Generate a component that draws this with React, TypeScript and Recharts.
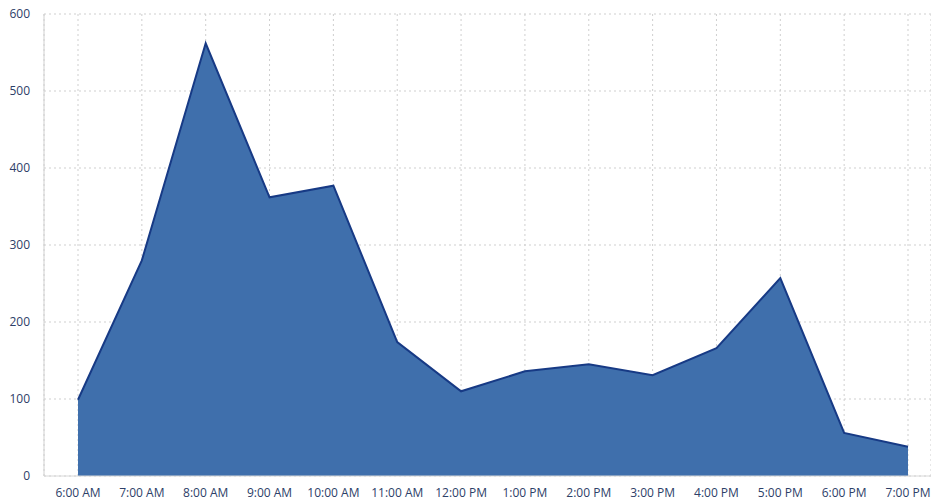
import { AreaChart, Area, XAxis, YAxis, CartesianGrid } from "recharts";

const hours = [
  "6:00 AM",
  "7:00 AM",
  "8:00 AM",
  "9:00 AM",
  "10:00 AM",
  "11:00 AM",
  "12:00 PM",
  "1:00 PM",
  "2:00 PM",
  "3:00 PM",
  "4:00 PM",
  "5:00 PM",
  "6:00 PM",
  "7:00 PM",
];

const counts = [99, 280, 562, 362, 377, 174, 110, 136, 145, 131, 166, 257, 56, 38];

const yTicks = [0, 100, 200, 300, 400, 500, 600];

const data = hours.map((hour, i) => ({ hour, count: counts[i] }));

const tickStyle = { fill: "#2d4068", fontSize: 12, fontFamily: "Open Sans" };

export default function App() {
  return (
    <div style={{ position: "absolute", left: 0, top: 0, background: "#fff" }}>
      <AreaChart
        width={931}
        height={503}
        data={data}
        margin={{ top: 14, right: 0, bottom: 0, left: 0 }}
      >
        <CartesianGrid stroke="#cfcfcf" strokeDasharray="2 3" />
        <XAxis
          dataKey="hour"
          interval={0}
          height={27}
          padding={{ left: 34, right: 23 }}
          tick={tickStyle}
          tickLine={false}
          tickSize={0}
          tickMargin={12}
          axisLine={{ stroke: "#d8d8d8" }}
        />
        <YAxis
          domain={[0, 600]}
          ticks={yTicks}
          width={44}
          tick={tickStyle}
          tickLine={false}
          tickSize={0}
          tickMargin={14}
          axisLine={{ stroke: "#d0d0d0" }}
        />
        <Area
          type="linear"
          dataKey="count"
          stroke="#173a85"
          strokeWidth={2}
          fill="#3f6fac"
          fillOpacity={1}
          isAnimationActive={false}
        />
      </AreaChart>
    </div>
  );
}
